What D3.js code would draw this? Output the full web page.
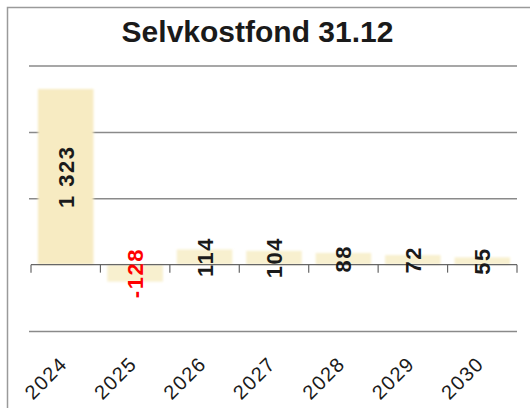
<!DOCTYPE html>
<html><head><meta charset="utf-8">
<script src="https://cdn.jsdelivr.net/npm/d3@7"></script>
<style>body{margin:0;background:#fff}svg{display:block}</style>
</head><body>
<script>
const categories = ["2024","2025","2026","2027","2028","2029","2030"];
const values = [1323,-128,114,104,88,72,55];
const gridTicks = [-500,500,1000,1500];
const valueLabels = ["1 323","-128","114","104","88","72","55"];
const title = "Selvkostfond 31.12";

const W=530,H=408;
const svg=d3.select("body").append("svg").attr("width",W).attr("height",H);
const defs=svg.append("defs");
defs.append("filter").attr("id","soft").attr("x","-20%").attr("y","-20%").attr("width","140%").attr("height","140%")
  .append("feGaussianBlur").attr("stdDeviation",1.3);

// frame
svg.append("path").attr("d","M7.5,408V7.5H530").attr("fill","none").attr("stroke","#9a9a9a").attr("stroke-width",1.5);

const x=d3.scaleBand().domain(categories).range([31,517]).paddingInner(0.2).paddingOuter(0.1);
const y=d3.scaleLinear().domain([-500,1500]).range([331,65.5]);

// gridlines
const grid=svg.append("g").attr("transform","translate(517,0)")
  .call(d3.axisLeft(y).tickValues(gridTicks).tickSize(517-29).tickFormat(""));
grid.select(".domain").remove();
grid.selectAll("line").attr("stroke","#8a8a8a").attr("stroke-width",1.5);

// bars
svg.append("g").attr("filter","url(#soft)").selectAll("rect").data(values).join("rect")
  .attr("x",(d,i)=>x(categories[i]))
  .attr("width",x.bandwidth())
  .attr("y",d=>y(Math.max(0,d)))
  .attr("height",d=>Math.abs(y(d)-y(0)))
  .attr("fill",d=>Math.abs(d)>500?"#f7ebc2":"#f8f0cf");

// zero axis with boundary ticks
const step=x.step();
const bounds=d3.range(categories.length+1).map(i=>31+i*step);
const ax=svg.append("g");
ax.append("line").attr("x1",31).attr("x2",517).attr("y1",y(0)).attr("y2",y(0)).attr("stroke","#666").attr("stroke-width",1.2);
ax.selectAll("line.t").data(bounds).join("line").attr("class","t")
  .attr("x1",d=>d).attr("x2",d=>d).attr("y1",y(0)).attr("y2",y(0)+8).attr("stroke","#666").attr("stroke-width",1.2);

// value labels
svg.append("g").selectAll("text").data(values).join("text")
  .attr("transform",(d,i)=>{
    const cx=x(categories[i])+x.bandwidth()/2;
    const cy=(y(d)+y(0))/2;
    return `translate(${cx+8},${cy}) rotate(-90)`;
  })
  .attr("text-anchor","middle")
  .attr("font-family","Liberation Sans, Arial, sans-serif")
  .attr("font-size",22).attr("font-weight","bold").attr("letter-spacing",1.5)
  .attr("fill",d=>d<0?"#ff0000":"#1a1a1a")
  .text((d,i)=>valueLabels[i]);

// x labels
svg.append("g").selectAll("text").data(categories).join("text")
  .attr("transform",d=>`translate(${x(d)+x.bandwidth()/2+3},365) rotate(-45)`)
  .attr("text-anchor","end")
  .attr("font-family","Liberation Sans, Arial, sans-serif")
  .attr("font-size",20).attr("letter-spacing",1.5)
  .attr("fill","#1a1a1a")
  .text(d=>d);

// title
svg.append("text").attr("x",257.5).attr("y",42).attr("text-anchor","middle")
  .attr("font-family","Liberation Sans, Arial, sans-serif")
  .attr("font-size",30).attr("font-weight","bold").attr("fill","#1a1a1a")
  .text(title);
</script>
</body></html>
